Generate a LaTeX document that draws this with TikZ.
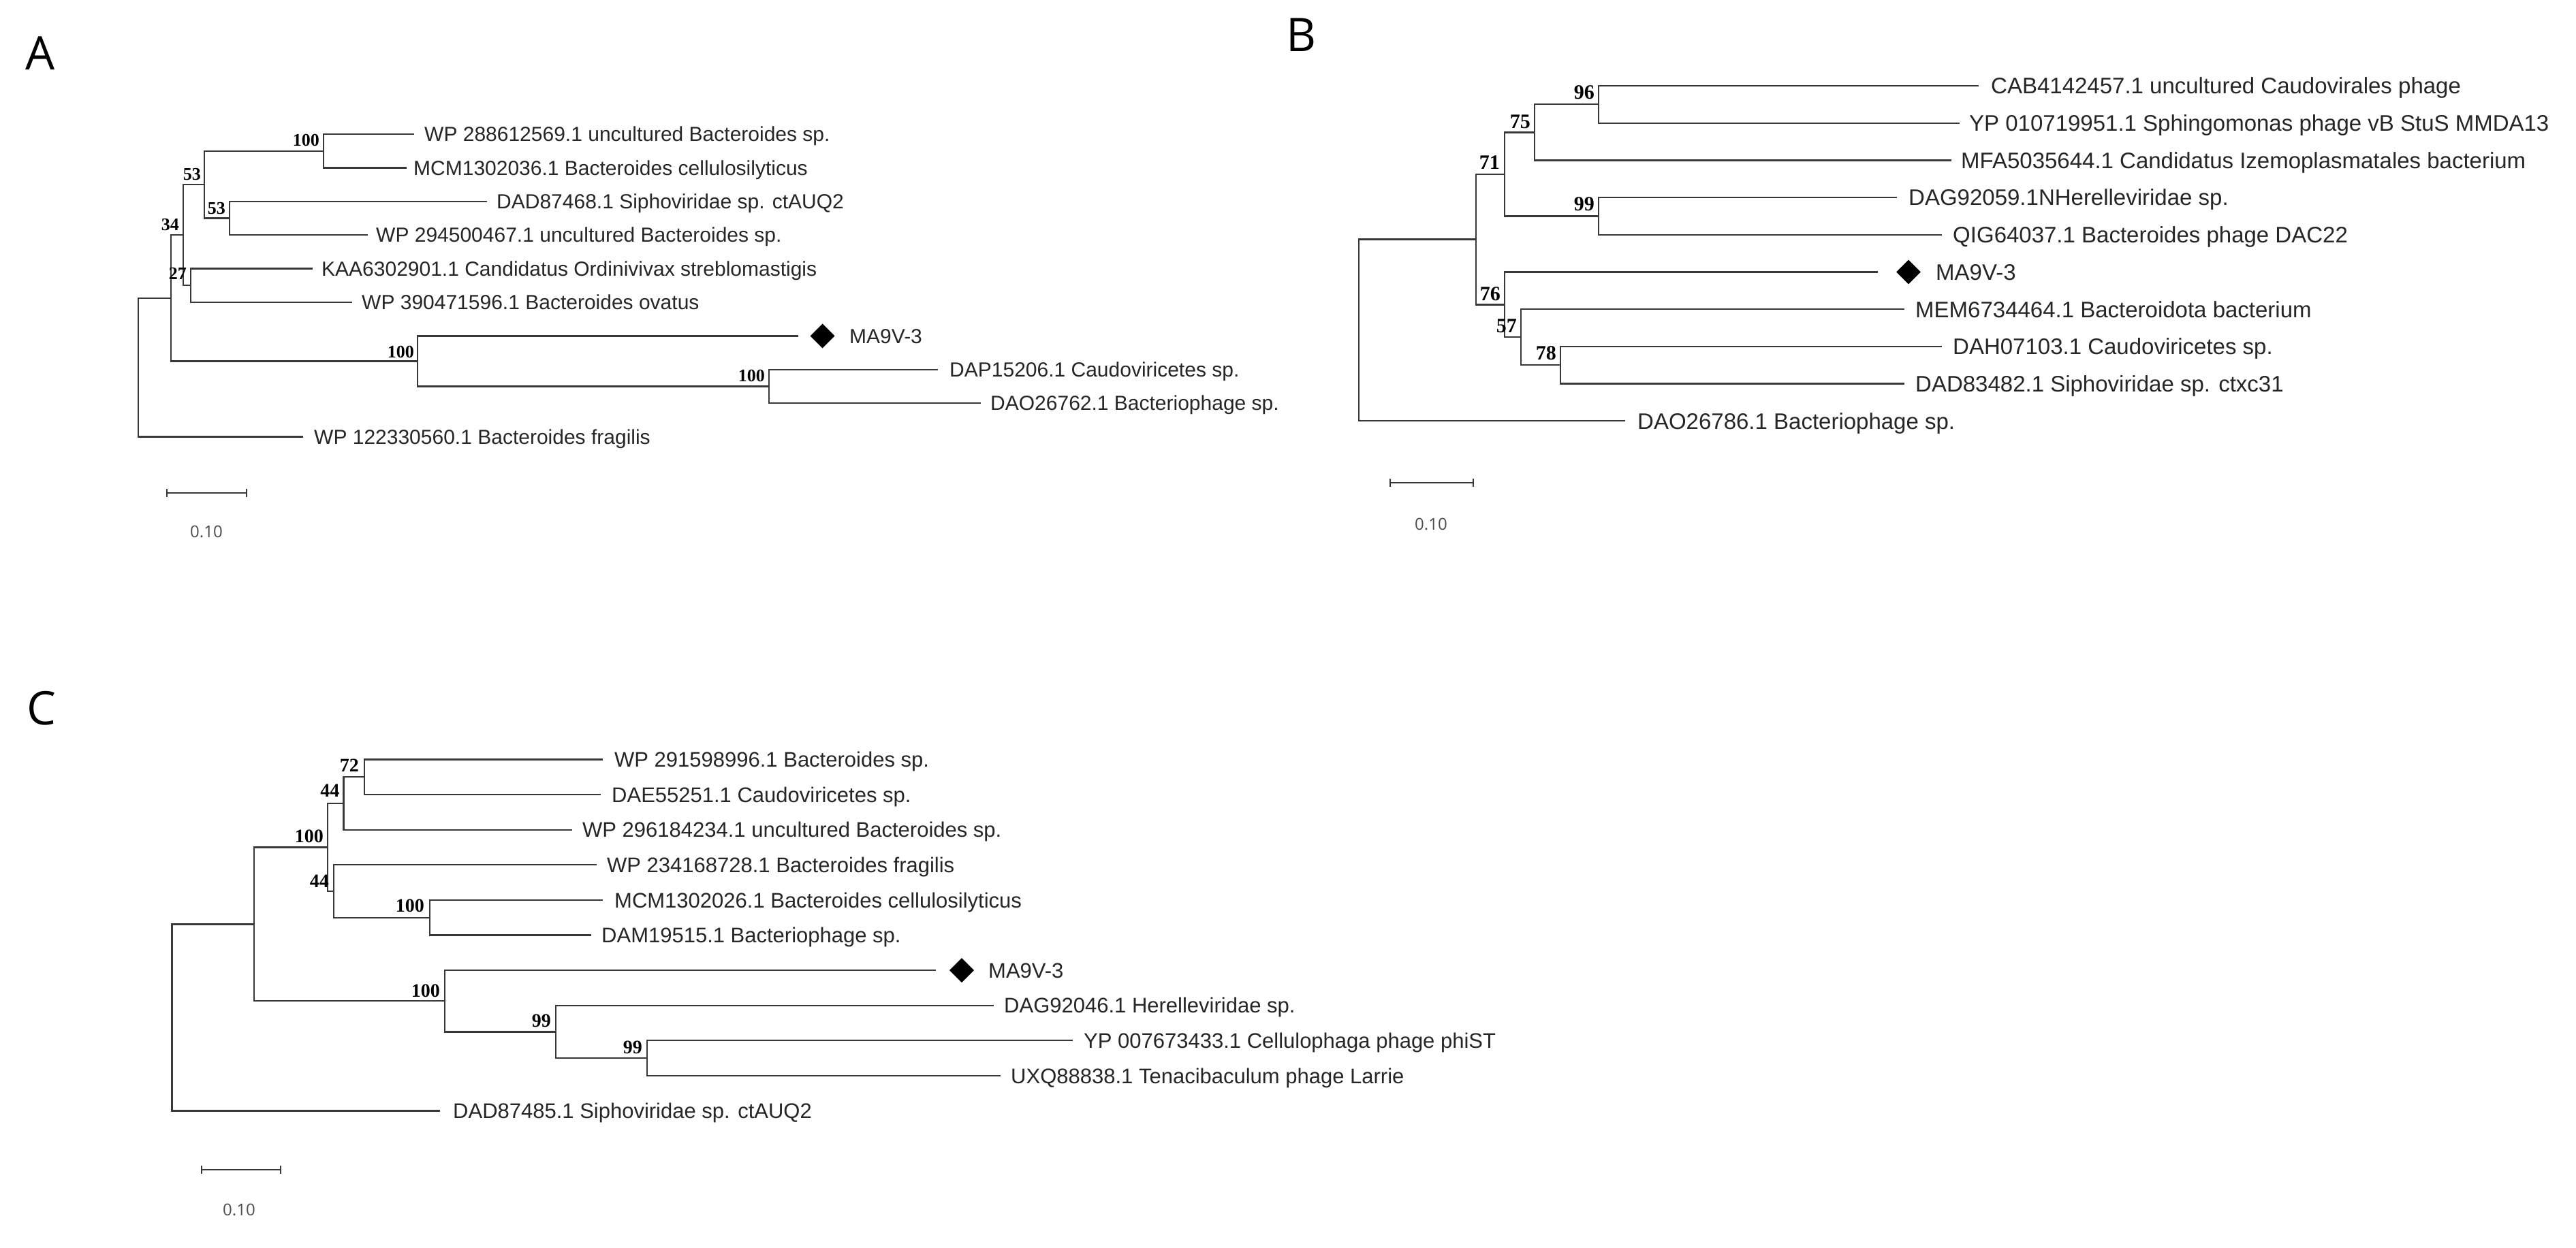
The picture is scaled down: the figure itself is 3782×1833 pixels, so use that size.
\documentclass[tikz,border=0pt]{standalone}
\usepackage{fontspec}
\setmainfont{Liberation Sans}
\newfontfamily\bsfont{Liberation Serif}
\newfontfamily\lightsf{Open Sans}
\usetikzlibrary{calc,shapes.geometric}
\tikzset{
  br/.style={draw=black!78, line width=2.3pt, line join=miter},
  leafA/.style={anchor=base west, inner sep=0pt, text=black!85, font=\fontsize{30}{36}\selectfont, yshift=-10.7pt},
  leafB/.style={anchor=base west, inner sep=0pt, text=black!85, font=\fontsize{33}{40}\selectfont, yshift=-11.8pt},
  leafC/.style={anchor=base west, inner sep=0pt, text=black!85, font=\fontsize{31}{37}\selectfont, yshift=-11.1pt},
  bsA/.style={anchor=base east, inner sep=0pt, text=black, font=\bsfont\bfseries\fontsize{26}{30}\selectfont},
  bsB/.style={anchor=base east, inner sep=0pt, text=black, font=\bsfont\bfseries\fontsize{30}{34}\selectfont},
  bsC/.style={anchor=base east, inner sep=0pt, text=black, font=\bsfont\bfseries\fontsize{28}{32}\selectfont},
  diam/.style={diamond, fill=black, draw=none, minimum width=36pt, minimum height=36pt, inner sep=0pt},
  panel/.style={anchor=base west, inner sep=0pt, text=black, font=\lightsf\fontsize{68}{80}\selectfont},
  scl/.style={anchor=base, inner sep=0pt, text=black!70, font=\lightsf\fontsize{24}{30}\selectfont}
}
\begin{document}
\begin{tikzpicture}[x=1pt,y=-1pt]
\fill[white] (0,0) rectangle (3782,1833);
\useasboundingbox (0,0) rectangle (3782,1833);

% ================= Panel A =================
\node[panel] (labA) at (37,103) {A};
\coordinate (RA) at (203,539.7);
\coordinate (PA) at (251,437.8);
\coordinate (QA) at (269,345.2);
\coordinate (SA) at (300,271.1);
\coordinate (UA) at (475,221.7);
\coordinate (VA) at (337,320.5);
\coordinate (TA) at (280,419.3);
\coordinate (MA) at (613,530.45);
\coordinate (WA) at (1129,567.5);
\coordinate (lA1) at (608,197);
\coordinate (lA2) at (597,246.4);
\coordinate (lA3) at (715,295.8);
\coordinate (lA4) at (540,345.2);
\coordinate (lA5) at (459,394.6);
\coordinate (lA6) at (517,444);
\coordinate (lA7) at (1172,493.4);
\coordinate (lA8) at (1377,542.8);
\coordinate (lA9) at (1440,592.2);
\coordinate (lA10) at (445,641.6);
\draw[br] (RA) |- (PA);
\draw[br] (RA) |- (lA10);
\draw[br] (PA) |- (QA);
\draw[br] (PA) |- (MA);
\draw[br] (QA) |- (SA);
\draw[br] (QA) |- (TA);
\draw[br] (SA) |- (UA);
\draw[br] (SA) |- (VA);
\draw[br] (UA) |- (lA1);
\draw[br] (UA) |- (lA2);
\draw[br] (VA) |- (lA3);
\draw[br] (VA) |- (lA4);
\draw[br] (TA) |- (lA5);
\draw[br] (TA) |- (lA6);
\draw[br] (MA) |- (lA7);
\draw[br] (MA) |- (WA);
\draw[br] (WA) |- (lA8);
\draw[br] (WA) |- (lA9);
\node[leafA] (tA1) at (623,197) {WP 288612569.1 uncultured Bacteroides sp.};
\node[leafA] (tA2) at (607,246.4) {MCM1302036.1 Bacteroides cellulosilyticus};
\node[leafA] (tA3) at (729,295.8) {DAD87468.1 Siphoviridae sp. ctAUQ2};
\node[leafA] (tA4) at (552,345.2) {WP 294500467.1 uncultured Bacteroides sp.};
\node[leafA] (tA5) at (472,394.6) {KAA6302901.1 Candidatus Ordinivivax streblomastigis};
\node[leafA] (tA6) at (531,444) {WP 390471596.1 Bacteroides ovatus};
\node[diam] (dA) at (1207.5,493.4) {};
\node[leafA] (tA7) at (1247,493.4) {MA9V-3};
\node[leafA] (tA8) at (1394,542.8) {DAP15206.1 Caudoviricetes sp.};
\node[leafA] (tA9) at (1454,592.2) {DAO26762.1 Bacteriophage sp.};
\node[leafA] (tA10) at (461,641.6) {WP 122330560.1 Bacteroides fragilis};
\node[bsA] (bUA) at ($(UA)+(-6,-7)$) {100};
\node[bsA] (bSA) at ($(SA)+(-5,-7)$) {53};
\node[bsA] (bVA) at ($(VA)+(-6,-6)$) {53};
\node[bsA] (bQA) at ($(QA)+(-6,-7)$) {34};
\node[bsA] (bTA) at ($(TA)+(-6,-9)$) {27};
\node[bsA] (bMA) at ($(MA)+(-5,-5)$) {100};
\node[bsA] (bWA) at ($(WA)+(-6,-7)$) {100};
\coordinate (sA1) at (245,724);
\coordinate (sA2) at (362,724);
\draw[br] (sA1) -- (sA2);
\draw[br] ($(sA1)+(0,-6)$) -- ($(sA1)+(0,6)$);
\draw[br] ($(sA2)+(0,-6)$) -- ($(sA2)+(0,6)$);
\node[scl] (scA) at (303,789) {0.10};

% ================= Panel B =================
\node[panel] (labB) at (1888,76) {B};
\coordinate (RB) at (1995,485);
\coordinate (XB) at (2167,351.6);
\coordinate (YB) at (2209,255.9);
\coordinate (ZB) at (2253,194.4);
\coordinate (N96B) at (2347,153.35);
\coordinate (N99B) at (2347,317.45);
\coordinate (N76B) at (2209,447.35);
\coordinate (N57B) at (2233,495.2);
\coordinate (N78B) at (2291,536.25);
\coordinate (lB1) at (2905,126);
\coordinate (lB2) at (2877,180.7);
\coordinate (lB3) at (2865,235.4);
\coordinate (lB4) at (2785,290.1);
\coordinate (lB5) at (2851,344.8);
\coordinate (lB6) at (2757,399.5);
\coordinate (lB7) at (2796,454.2);
\coordinate (lB8) at (2851,508.9);
\coordinate (lB9) at (2796,563.6);
\coordinate (lB10) at (2386,618.3);
\draw[br] (RB) |- (XB);
\draw[br] (RB) |- (lB10);
\draw[br] (XB) |- (YB);
\draw[br] (XB) |- (N76B);
\draw[br] (YB) |- (ZB);
\draw[br] (YB) |- (N99B);
\draw[br] (ZB) |- (N96B);
\draw[br] (ZB) |- (lB3);
\draw[br] (N96B) |- (lB1);
\draw[br] (N96B) |- (lB2);
\draw[br] (N99B) |- (lB4);
\draw[br] (N99B) |- (lB5);
\draw[br] (N76B) |- (lB6);
\draw[br] (N76B) |- (N57B);
\draw[br] (N57B) |- (lB7);
\draw[br] (N57B) |- (N78B);
\draw[br] (N78B) |- (lB8);
\draw[br] (N78B) |- (lB9);
\node[leafB] (tB1) at (2923,126) {CAB4142457.1 uncultured Caudovirales phage};
\node[leafB] (tB2) at (2891,180.7) {YP 010719951.1 Sphingomonas phage vB StuS MMDA13};
\node[leafB] (tB3) at (2879,235.4) {MFA5035644.1 Candidatus Izemoplasmatales bacterium};
\node[leafB] (tB4) at (2802,290.1) {DAG92059.1NHerelleviridae sp.};
\node[leafB] (tB5) at (2867,344.8) {QIG64037.1 Bacteroides phage DAC22};
\node[diam] (dB) at (2802,399.5) {};
\node[leafB] (tB6) at (2842,399.5) {MA9V-3};
\node[leafB] (tB7) at (2812,454.2) {MEM6734464.1 Bacteroidota bacterium};
\node[leafB] (tB8) at (2867,508.9) {DAH07103.1 Caudoviricetes sp.};
\node[leafB] (tB9) at (2812,563.6) {DAD83482.1 Siphoviridae sp. ctxc31};
\node[leafB] (tB10) at (2404,618.3) {DAO26786.1 Bacteriophage sp.};
\node[bsB] (bN96B) at ($(N96B)+(-6,-8)$) {96};
\node[bsB] (bZB) at ($(ZB)+(-6,-6)$) {75};
\node[bsB] (bYB) at ($(YB)+(-7,-7)$) {71};
\node[bsB] (bN99B) at ($(N99B)+(-6,-8)$) {99};
\node[bsB] (bN76B) at ($(N76B)+(-6,-6)$) {76};
\node[bsB] (bN57B) at ($(N57B)+(-6,-7)$) {57};
\node[bsB] (bN78B) at ($(N78B)+(-6,-8)$) {78};
\coordinate (sB1) at (2041,709);
\coordinate (sB2) at (2163,709);
\draw[br] (sB1) -- (sB2);
\draw[br] ($(sB1)+(0,-6)$) -- ($(sB1)+(0,6)$);
\draw[br] ($(sB2)+(0,-6)$) -- ($(sB2)+(0,6)$);
\node[scl] (scB) at (2101,778) {0.10};

% ================= Panel C =================
\node[panel] (labC) at (39,1064) {C};
\coordinate (RC) at (252.6,1494.45);
\coordinate (GC) at (373,1357.4);
\coordinate (HC) at (481,1244.5);
\coordinate (IC) at (504.5,1180);
\coordinate (KC) at (535,1141.3);
\coordinate (JC) at (490,1309);
\coordinate (LC) at (631,1347.7);
\coordinate (MC) at (653,1470.25);
\coordinate (NC) at (816,1515.4);
\coordinate (OC) at (950,1554.1);
\coordinate (lC1) at (885,1115.5);
\coordinate (lC2) at (882,1167.1);
\coordinate (lC3) at (840,1218.7);
\coordinate (lC4) at (876,1270.3);
\coordinate (lC5) at (885,1321.9);
\coordinate (lC6) at (868,1373.5);
\coordinate (lC7) at (1374,1425.1);
\coordinate (lC8) at (1459,1476.7);
\coordinate (lC9) at (1575,1528.3);
\coordinate (lC10) at (1469,1579.9);
\coordinate (lC11) at (646,1631.5);
\draw[br] (RC) |- (GC);
\draw[br] (RC) |- (lC11);
\draw[br] (GC) |- (HC);
\draw[br] (GC) |- (MC);
\draw[br] (HC) |- (IC);
\draw[br] (HC) |- (JC);
\draw[br] (IC) |- (KC);
\draw[br] (IC) |- (lC3);
\draw[br] (KC) |- (lC1);
\draw[br] (KC) |- (lC2);
\draw[br] (JC) |- (lC4);
\draw[br] (JC) |- (LC);
\draw[br] (LC) |- (lC5);
\draw[br] (LC) |- (lC6);
\draw[br] (MC) |- (lC7);
\draw[br] (MC) |- (NC);
\draw[br] (NC) |- (lC8);
\draw[br] (NC) |- (OC);
\draw[br] (OC) |- (lC9);
\draw[br] (OC) |- (lC10);
\node[leafC] (tC1) at (902,1115.5) {WP 291598996.1 Bacteroides sp.};
\node[leafC] (tC2) at (898,1167.1) {DAE55251.1 Caudoviricetes sp.};
\node[leafC] (tC3) at (855,1218.7) {WP 296184234.1 uncultured Bacteroides sp.};
\node[leafC] (tC4) at (891,1270.3) {WP 234168728.1 Bacteroides fragilis};
\node[leafC] (tC5) at (902,1321.9) {MCM1302026.1 Bacteroides cellulosilyticus};
\node[leafC] (tC6) at (883,1373.5) {DAM19515.1 Bacteriophage sp.};
\node[diam] (dC) at (1412,1425.1) {};
\node[leafC] (tC7) at (1451,1425.1) {MA9V-3};
\node[leafC] (tC8) at (1474,1476.7) {DAG92046.1 Herelleviridae sp.};
\node[leafC] (tC9) at (1591,1528.3) {YP 007673433.1 Cellulophaga phage phiST};
\node[leafC] (tC10) at (1484,1579.9) {UXQ88838.1 Tenacibaculum phage Larrie};
\node[leafC] (tC11) at (665,1631.5) {DAD87485.1 Siphoviridae sp. ctAUQ2};
\node[bsC] (bKC) at ($(KC)+(-8,-8)$) {72};
\node[bsC] (bIC) at ($(IC)+(-6,-10)$) {44};
\node[bsC] (bHC) at ($(HC)+(-6,-7)$) {100};
\node[bsC] (bJC) at ($(JC)+(-7,-6)$) {44};
\node[bsC] (bLC) at ($(LC)+(-8,-8)$) {100};
\node[bsC] (bMC) at ($(MC)+(-7,-6)$) {100};
\node[bsC] (bNC) at ($(NC)+(-7,-7)$) {99};
\node[bsC] (bOC) at ($(OC)+(-7,-7)$) {99};
\coordinate (sC1) at (296,1718);
\coordinate (sC2) at (412,1718);
\draw[br] (sC1) -- (sC2);
\draw[br] ($(sC1)+(0,-6)$) -- ($(sC1)+(0,6)$);
\draw[br] ($(sC2)+(0,-6)$) -- ($(sC2)+(0,6)$);
\node[scl] (scC) at (351,1785) {0.10};
\end{tikzpicture}
\end{document}
